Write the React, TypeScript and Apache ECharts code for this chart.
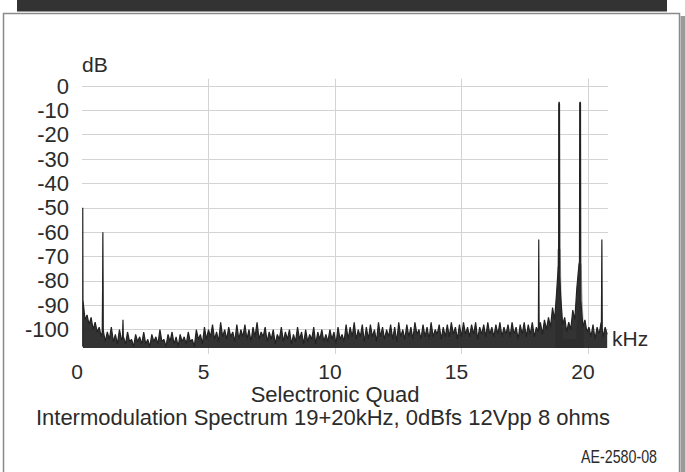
import React, { useEffect, useRef } from "react";
import * as echarts from "echarts";

// ---- data ----
const X_TICKS = [0, 5, 10, 15, 20];
const Y_TICKS = [0, -10, -20, -30, -40, -50, -60, -70, -80, -90, -100];

// noise floor, sampled every NOISE_STEP_KHZ starting at NOISE_START_KHZ (dB)
const NOISE_START_KHZ = 0.04;
const NOISE_STEP_KHZ = 0.08;
const NOISE_DB = [
  -92, -96, -94, -98, -95, -100, -97, -101, -99, -103,
  -100, -105, -101, -104, -99, -105, -102, -106, -100, -104,
  -103, -106, -101, -105, -104, -107, -102, -105, -103, -106,
  -101, -106, -104, -107, -102, -105, -103, -106, -100, -105,
  -104, -107, -102, -105, -101, -106, -103, -107, -102, -105,
  -103, -106, -101, -105, -104, -107, -100, -104, -102, -106,
  -99, -104, -100, -103, -98, -104, -101, -105, -97, -103,
  -100, -104, -99, -103, -101, -105, -98, -104, -100, -103,
  -98, -104, -100, -105, -99, -103, -97, -104, -101, -103,
  -99, -105, -101, -104, -100, -106, -102, -104, -99, -105,
  -101, -104, -100, -106, -102, -105, -99, -104, -101, -106,
  -100, -105, -102, -104, -99, -106, -101, -104, -100, -105,
  -102, -105, -100, -104, -101, -106, -99, -104, -102, -105,
  -98, -104, -99, -103, -97, -104, -100, -103, -98, -105,
  -99, -104, -98, -103, -100, -105, -97, -103, -99, -104,
  -100, -103, -98, -104, -99, -105, -97, -103, -100, -104,
  -98, -103, -99, -104, -97, -102, -100, -104, -98, -103,
  -99, -104, -97, -103, -100, -102, -98, -104, -99, -103,
  -98, -103, -97, -102, -99, -104, -98, -103, -97, -102,
  -99, -103, -98, -102, -97, -104, -99, -102, -98, -103,
  -97, -102, -99, -103, -98, -102, -97, -103, -99, -102,
  -98, -103, -97, -102, -99, -104, -98, -102, -97, -103,
  -98, -102, -97, -103, -99, -101, -97, -102, -96, -100,
  -95, -99, -91, -96, -85, -75, -86, -98, -95, -101,
  -97, -100, -92, -96, -83, -74, -88, -99, -96, -101,
  -99, -103, -98, -104, -99, -102, -97, -103, -99, -102,
];

// discrete spectral lines: [kHz, dB] outlines of each stem
const DC_LINE = [[0.03, -107], [0.03, -50], [0.04, -88]];
const LINE_1K = [[0.8, -101], [0.815, -82], [0.825, -60], [0.835, -82], [0.85, -101]];
const LINE_1K6 = [[1.6, -104], [1.62, -96], [1.635, -104]];
const LINE_18K = [[18.04, -100], [18.055, -63], [18.07, -100]];
const LINE_19K = [[18.83, -74], [18.845, -7.5], [18.86, -6.5], [18.875, -7.5], [18.89, -78]];
const LINE_20K = [[19.665, -72], [19.675, -7], [19.69, -6.5], [19.705, -7], [19.715, -74]];
const LINE_21K = [[20.53, -100], [20.55, -63], [20.565, -100]];

// light grey envelope visible around the two tone bases
const SKIRT_ENVELOPE = [
  [18.7, -104], [18.78, -86], [18.81, -67], [18.9, -67], [18.94, -86], [19.0, -104],
  [19.55, -104], [19.6, -88], [19.63, -73], [19.73, -73], [19.77, -88], [19.84, -104],
];

const TITLE = "Selectronic Quad";
const SUBTITLE = "Intermodulation Spectrum 19+20kHz, 0dBfs 12Vpp 8 ohms";
const CODE = "AE-2580-08";
const X_NAME = "kHz";
const Y_NAME = "dB";

const FONT = '"Liberation Sans", Arial, sans-serif';
const INK = "#2b2b2b";

export default function App() {
  const ref = useRef<HTMLDivElement>(null);

  useEffect(() => {
    if (!ref.current) return;
    const chart = echarts.init(ref.current, null, { renderer: "svg" });

    const noisePairs = NOISE_DB.map((v, i) => [
      +(NOISE_START_KHZ + i * NOISE_STEP_KHZ).toFixed(3),
      v,
    ]);
    const all = [
      ...noisePairs,
      ...DC_LINE,
      ...LINE_1K,
      ...LINE_1K6,
      ...LINE_18K,
      ...LINE_19K,
      ...LINE_20K,
      ...LINE_21K,
    ].sort((a, b) => a[0] - b[0]);

    chart.setOption({
      animation: false,
      backgroundColor: "#ffffff",
      grid: { left: 82, right: 76.8, top: 78.7, bottom: 118.1, containLabel: false },
      xAxis: {
        type: "value",
        position: "bottom",
        min: 0,
        max: 20.8,
        interval: 5,
        axisLine: { show: false, onZero: false },
        axisTick: { show: false },
        splitLine: {
          show: true,
          showMinLine: false,
          showMaxLine: false,
          lineStyle: { color: "#d3d3d3", width: 1 },
        },
        axisLabel: {
          formatter: (v: number) => (X_TICKS.includes(v) ? String(v) : ""),
          margin: 7,
          padding: [0, 10, 0, 0],
          fontSize: 21,
          color: INK,
          fontFamily: FONT,
        },
      },
      yAxis: {
        type: "value",
        min: -110,
        max: 3,
        interval: 10,
        axisLine: { show: false },
        axisTick: { show: false },
        splitLine: {
          show: true,
          showMinLine: false,
          showMaxLine: false,
          lineStyle: { color: "#d3d3d3", width: 1 },
        },
        axisLabel: {
          formatter: (v: number) => (Y_TICKS.includes(v) ? String(v) : ""),
          margin: 13,
          fontSize: 22,
          color: INK,
          fontFamily: FONT,
        },
        name: Y_NAME,
        nameLocation: "end",
        nameGap: 4,
        nameTextStyle: {
          fontSize: 21,
          color: INK,
          fontFamily: FONT,
          align: "left",
        },
      },
      series: [
        {
          type: "line",
          data: SKIRT_ENVELOPE,
          symbol: "none",
          showSymbol: false,
          silent: true,
          z: 1,
          lineStyle: { color: "#b4b4b4", width: 1 },
          areaStyle: { color: "#b4b4b4", opacity: 1, origin: -107.6 },
        },
        {
          type: "line",
          data: all,
          symbol: "none",
          showSymbol: false,
          silent: true,
          clip: true,
          z: 2,
          lineStyle: { color: "#222222", width: 1.2 },
          areaStyle: { color: "#222222", opacity: 0.92, origin: -107.6 },
        },
      ],
      graphic: [
        { type: "rect", shape: { x: 17, y: 0, width: 650, height: 11.5 }, style: { fill: "#333333" } },
        { type: "rect", shape: { x: 3.5, y: 13.5, width: 676, height: 470 }, style: { fill: "transparent", stroke: "#8a8a8a", lineWidth: 1.5 } },
        { type: "rect", shape: { x: 680.5, y: 16, width: 5, height: 460 }, style: { fill: "#9a9a9a" } },
        {
          type: "text",
          x: 612,
          y: 338,
          style: { text: X_NAME, font: `21px ${FONT}`, fill: INK, align: "left", verticalAlign: "middle" },
        },
        {
          type: "text",
          x: 335,
          y: 394,
          style: { text: TITLE, font: `22px ${FONT}`, fill: INK, align: "center", verticalAlign: "middle" },
        },
        {
          type: "text",
          x: 323,
          y: 417.5,
          style: { text: SUBTITLE, font: `22px ${FONT}`, fill: INK, align: "center", verticalAlign: "middle" },
        },
        {
          type: "text",
          x: 657,
          y: 457,
          scaleX: 0.75,
          style: {
            text: CODE,
            font: `19px ${FONT}`,
            fill: INK,
            align: "right",
            verticalAlign: "middle",
          },
        },
      ],
    });

    return () => chart.dispose();
  }, []);

  return (
    <div
      ref={ref}
      style={{ position: "absolute", left: 0, top: 0, width: 685, height: 472 }}
    />
  );
}
